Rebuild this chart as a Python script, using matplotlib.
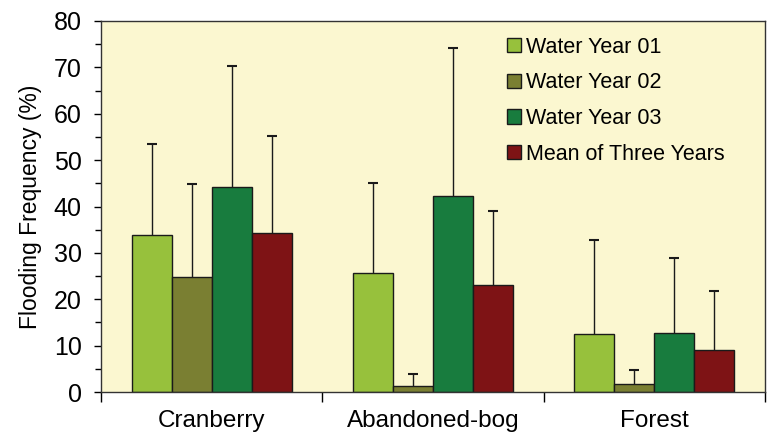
import numpy as np
import matplotlib.pyplot as plt

plt.rcParams['font.family'] = ['Liberation Sans', 'DejaVu Sans']

sites = ['Cranberry', 'Abandoned-bog', 'Forest']
series = ['Water Year 01', 'Water Year 02', 'Water Year 03', 'Mean of Three Years']
means = [
    [33.8, 25.6, 12.6],
    [24.9, 1.2, 1.7],
    [44.1, 42.2, 12.8],
    [34.3, 23.1, 9.1],
]
upper = [
    [53.4, 45.1, 32.8],
    [44.9, 3.9, 4.7],
    [70.4, 74.1, 28.8],
    [55.1, 39.0, 21.8],
]
colors = ['#97c13c', '#7a7f32', '#187c3e', '#7e1315']

fig = plt.figure(figsize=(7.67, 4.34), dpi=100)
ax = fig.add_axes([101/767, 42/434, 664/767, 371/434])
ax.set_facecolor('#fbf7d0')

x = np.arange(len(sites))
w = 0.181
for i in range(4):
    m = np.array(means[i])
    top = np.array(upper[i])
    pos = x + (i - 1.5) * w
    ax.bar(pos, m, w, color=colors[i], edgecolor='#1a1a1a', linewidth=1.0,
           label=series[i], zorder=2)
    ax.vlines(pos, m, top, color='#1a1a1a', linewidth=1.0, zorder=1)
    ax.plot(pos, top, linestyle='none', marker='_', markersize=7,
            markeredgewidth=1.5, color='#1a1a1a', zorder=1)

ax.set_xlim(-0.5, 2.5)
ax.set_ylim(0, 80)
ax.set_yticks(np.arange(0, 81, 10))
ax.set_yticks(np.arange(0, 81, 5), minor=True)
ax.set_xticks([-0.5, 0.5, 1.5, 2.5])
ax.set_xticklabels([])
ax.set_xticks(x, minor=True)
ax.set_xticklabels(sites, minor=True)
ax.tick_params(axis='x', which='minor', length=0, pad=13, labelsize=17.5)
ax.tick_params(axis='x', which='major', length=7, width=1)
ax.tick_params(axis='y', which='major', length=5, width=1, labelsize=18, pad=9)
ax.tick_params(axis='y', which='minor', length=4, width=1)
for s in ax.spines.values():
    s.set_linewidth(1.0)
    s.set_color('#333333')
ax.set_ylabel('Flooding Frequency (%)', fontsize=16.5, labelpad=8)

leg = ax.legend(loc='upper left', bbox_to_anchor=(0.582, 1.01), frameon=False,
                fontsize=15.5, handlelength=0.65, handleheight=0.65,
                handletextpad=0.25, labelspacing=0.68)

fig.savefig('out.png', dpi=100)
